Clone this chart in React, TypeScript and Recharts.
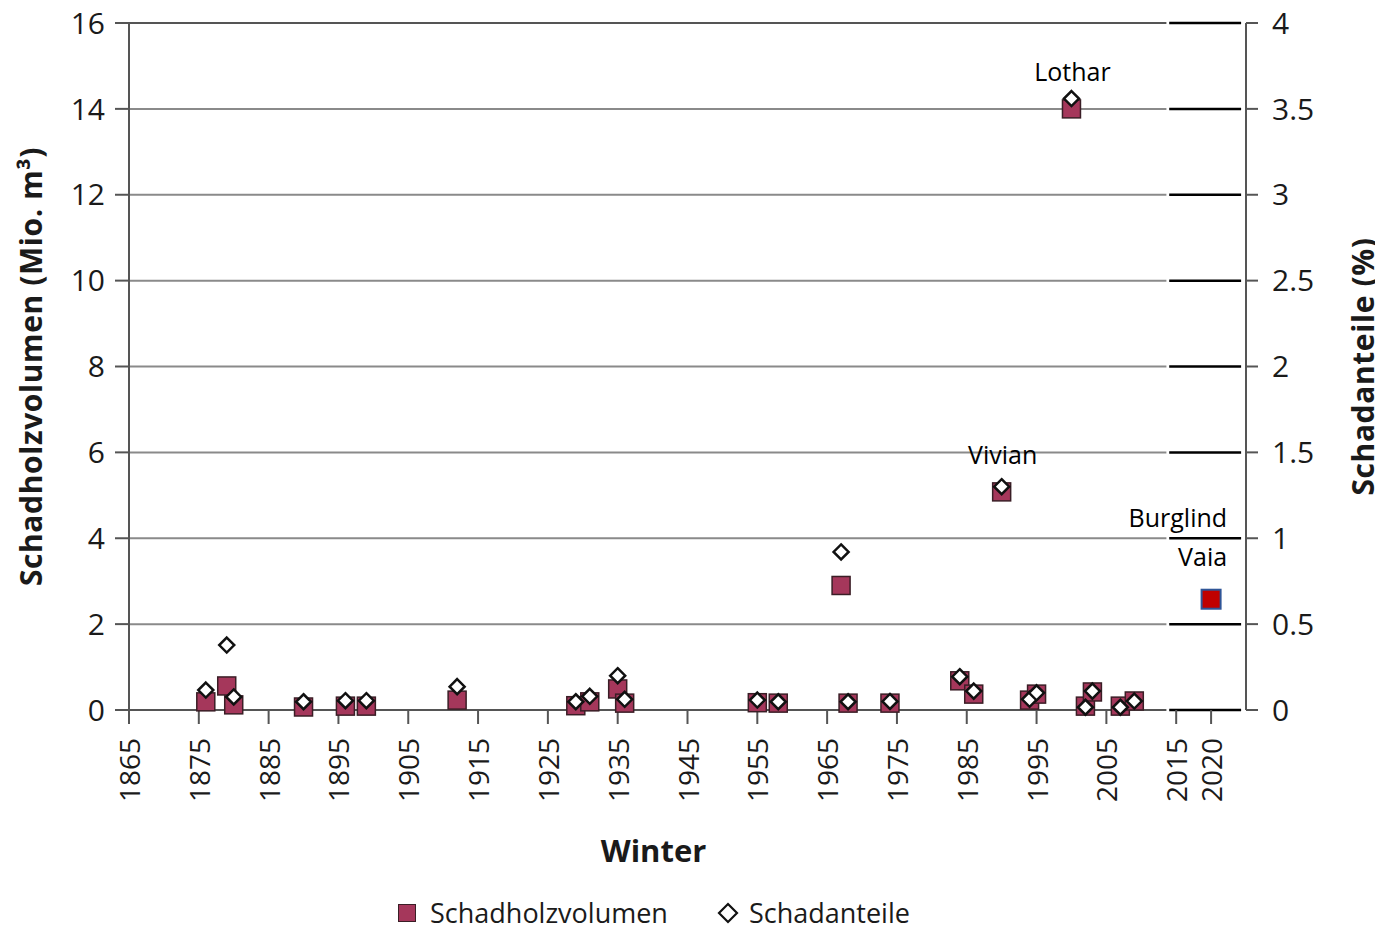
import {
  ComposedChart,
  Scatter,
  XAxis,
  YAxis,
  Legend,
  Label,
  ReferenceLine,
} from 'recharts'

// winters with storm damage (Schadholzvolumen in Mio. m3, Schadanteile in %)
const YEARS = [
  1876, 1879, 1880, 1890, 1896, 1899, 1912, 1929, 1931, 1935, 1936, 1955, 1958,
  1967, 1968, 1974, 1984, 1986, 1990, 1994, 1995, 2000, 2002, 2003, 2007, 2009,
]
const VOLUME = [
  0.19, 0.56, 0.12, 0.07, 0.09, 0.09, 0.23, 0.1, 0.19, 0.49, 0.16, 0.17, 0.16,
  2.9, 0.16, 0.16, 0.68, 0.37, 5.08, 0.23, 0.37, 14.0, 0.09, 0.42, 0.09, 0.21,
]
const SHARE = [
  0.116, 0.378, 0.076, 0.048, 0.054, 0.054, 0.136, 0.048, 0.08, 0.2, 0.062, 0.058, 0.048,
  0.92, 0.048, 0.05, 0.194, 0.11, 1.3, 0.062, 0.1, 3.56, 0.016, 0.11, 0.016, 0.052,
]
const STORM_NAMES: Record<number, string> = { 1990: 'Vivian', 2000: 'Lothar' }

// Burglind / Vaia, added afterwards
const RECENT_YEAR = [2020]
const RECENT_VOLUME = [2.58]
const RECENT_NAMES = ['Burglind', 'Vaia']

const X_TICKS = [1865, 1875, 1885, 1895, 1905, 1915, 1925, 1935, 1945, 1955, 1965, 1975, 1985, 1995, 2005, 2015, 2020]
const LEFT_TICKS = [0, 2, 4, 6, 8, 10, 12, 14, 16]
const RIGHT_TICKS = [0, 0.5, 1, 1.5, 2, 2.5, 3, 3.5, 4]

const volumeData = YEARS.map((year, i) => ({ year, vol: VOLUME[i], name: STORM_NAMES[year] ?? '' }))
const shareData = YEARS.map((year, i) => ({ year, share: SHARE[i] }))
const recentData = RECENT_YEAR.map((year, i) => ({ year, vol: RECENT_VOLUME[i] }))

const FONT = '"Open Sans", "Noto Sans", sans-serif'
const LABEL_FONT = '"Open Sans", "Noto Sans", sans-serif'
const SQUARE_FILL = '#a5375b'
const SQUARE_STROKE = '#3a1e26'
const TEXT = '#1a1a1a'

function SquareShape(props: any) {
  const { cx, cy, payload } = props
  return (
    <g>
      <rect x={cx - 9} y={cy - 9} width={18} height={18} fill={SQUARE_FILL} stroke={SQUARE_STROKE} strokeWidth={1.5} />
      {payload.name ? (
        <text x={cx + 1} y={cy - 38} textAnchor="middle" dominantBaseline="central" fontSize={25} fontFamily={LABEL_FONT} fill="#000">
          {payload.name}
        </text>
      ) : null}
    </g>
  )
}

function DiamondShape(props: any) {
  const { cx, cy } = props
  const r = 7.5
  return (
    <polygon
      points={`${cx},${cy - r} ${cx + r},${cy} ${cx},${cy + r} ${cx - r},${cy}`}
      fill="#fff"
      stroke="#111"
      strokeWidth={2.5}
    />
  )
}

function RecentShape(props: any) {
  const { cx, cy } = props
  return (
    <g>
      <rect x={cx - 9.5} y={cy - 9.5} width={19} height={19} fill="#c00000" stroke="#2f5597" strokeWidth={2} />
      <text x={cx + 16} y={cy - 82} textAnchor="end" dominantBaseline="central" fontSize={25} fontFamily={LABEL_FONT} fill="#000">
        {RECENT_NAMES[0]}
      </text>
      <text x={cx + 16} y={cy - 43} textAnchor="end" dominantBaseline="central" fontSize={25} fontFamily={LABEL_FONT} fill="#000">
        {RECENT_NAMES[1]}
      </text>
    </g>
  )
}

function XTick(props: any) {
  const { x, y, payload } = props
  return (
    <text
      x={x}
      y={y}
      transform={`rotate(-90, ${x}, ${y})`}
      textAnchor="end"
      dominantBaseline="central"
      fontSize={28}
      fontFamily={FONT}
      fill={TEXT}
    >
      {payload.value}
    </text>
  )
}

function VerticalTitle({ x, y, text }: { x: number; y: number; text: string }) {
  return (
    <text
      x={x}
      y={y}
      transform={`rotate(-90, ${x}, ${y})`}
      textAnchor="middle"
      dominantBaseline="central"
      fontSize={30}
      letterSpacing={0.6}
      fontWeight="bold"
      fontFamily={FONT}
      fill={TEXT}
    >
      {text}
    </text>
  )
}

function LegendContent() {
  return (
    <div
      style={{
        height: 50,
        paddingTop: 18,
        boxSizing: 'border-box',
        display: 'flex',
        alignItems: 'center',
        fontFamily: FONT,
        fontSize: 27,
        color: TEXT,
        lineHeight: '30px',
      }}
    >
      <svg width={18} height={18} style={{ marginRight: 14 }}>
        <rect x={0.5} y={0.5} width={17} height={17} fill={SQUARE_FILL} stroke={SQUARE_STROKE} />
      </svg>
      <span>Schadholzvolumen</span>
      <svg width={22} height={22} style={{ marginLeft: 49, marginRight: 10 }}>
        <polygon points="11,2 20,11 11,20 2,11" fill="#fff" stroke="#111" strokeWidth={2.2} />
      </svg>
      <span>Schadanteile</span>
    </div>
  )
}

export default function App() {
  return (
    <div style={{ width: 1383, height: 929, marginTop: -8, marginLeft: -8, background: '#fff' }}>
      <ComposedChart width={1383} height={929} margin={{ top: 23, right: 0, bottom: 0, left: 0 }}>
        <XAxis
          type="number"
          dataKey="year"
          domain={[1865, 2025]}
          ticks={X_TICKS}
          interval={0}
          height={169}
          axisLine={false}
          tickSize={14}
          tickMargin={14}
          tickLine={{ stroke: '#555', strokeWidth: 2 }}
          tick={<XTick />}
        >
          <Label
            content={(p: any) => (
              <text
                x={p.viewBox.x + p.viewBox.width / 2 - 34}
                y={p.viewBox.y + 140}
                textAnchor="middle"
                dominantBaseline="central"
                fontSize={31}
                fontWeight="bold"
                fontFamily={FONT}
                fill={TEXT}
              >
                Winter
              </text>
            )}
          />
        </XAxis>
        <YAxis
          yAxisId="vol"
          dataKey="vol"
          domain={[0, 16]}
          ticks={LEFT_TICKS}
          interval={0}
          width={129}
          axisLine={{ stroke: '#555', strokeWidth: 2 }}
          tickSize={14}
          tickMargin={10}
          tickLine={{ stroke: '#555', strokeWidth: 2 }}
          tick={{ fontSize: 30, fontFamily: FONT, fill: TEXT }}
        >
          <Label
            content={(p: any) => (
              <VerticalTitle x={30} y={p.viewBox.y + p.viewBox.height / 2} text="Schadholzvolumen (Mio. m³)" />
            )}
          />
        </YAxis>
        <YAxis
          yAxisId="share"
          dataKey="share"
          orientation="right"
          domain={[0, 4]}
          ticks={RIGHT_TICKS}
          interval={0}
          width={137}
          axisLine={{ stroke: '#555', strokeWidth: 2 }}
          tickSize={12}
          tickMargin={14}
          tickLine={{ stroke: '#555', strokeWidth: 2 }}
          tick={{ fontSize: 30, fontFamily: FONT, fill: TEXT }}
        >
          <Label
            content={(p: any) => (
              <VerticalTitle x={p.viewBox.x + 116} y={p.viewBox.y + p.viewBox.height / 2} text="Schadanteile (%)" />
            )}
          />
        </YAxis>

        {LEFT_TICKS.map((v) => (
          <ReferenceLine
            key={`g${v}`}
            yAxisId="vol"
            segment={[
              { x: 1865, y: v },
              { x: 2013.6, y: v },
            ]}
            stroke={v === 0 || v === 16 ? '#555' : '#8a8a8a'}
            strokeWidth={2}
          />
        ))}
        {LEFT_TICKS.map((v) => (
          <ReferenceLine
            key={`b${v}`}
            yAxisId="vol"
            segment={[
              { x: 2014, y: v },
              { x: 2024.3, y: v },
            ]}
            stroke="#000"
            strokeWidth={2.5}
          />
        ))}

        <Legend
          verticalAlign="bottom"
          height={50}
          wrapperStyle={{ left: 398, width: 700 }}
          content={<LegendContent />}
        />

        <Scatter yAxisId="vol" data={volumeData} shape={<SquareShape />} isAnimationActive={false} />
        <Scatter yAxisId="share" data={shareData} shape={<DiamondShape />} isAnimationActive={false} />
        <Scatter yAxisId="vol" data={recentData} shape={<RecentShape />} isAnimationActive={false} />
      </ComposedChart>
    </div>
  )
}
